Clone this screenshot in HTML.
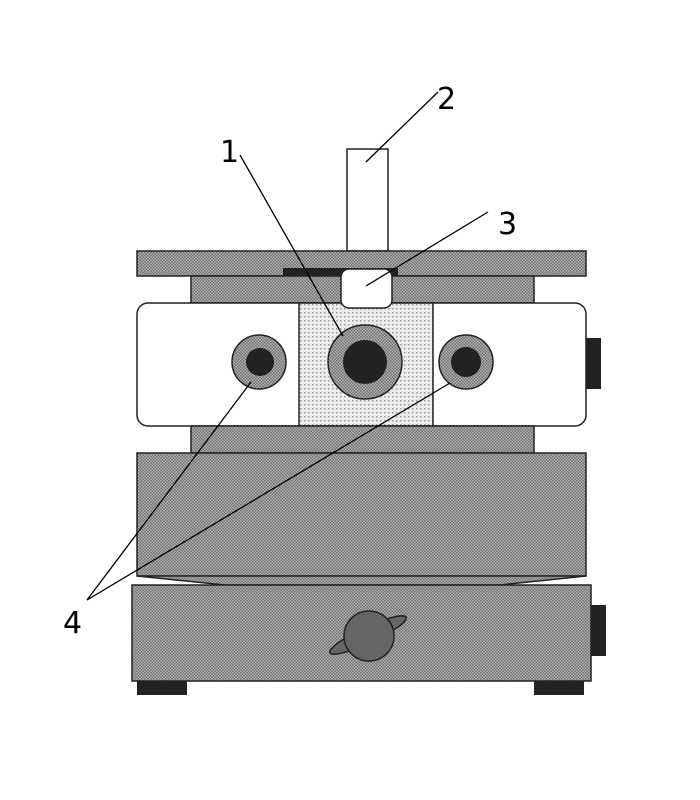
<!DOCTYPE html>
<html><head><meta charset="utf-8"><style>html,body{margin:0;padding:0;background:#fff}svg{display:block}</style></head>
<body>
<svg width="700" height="800" viewBox="0 0 700 800" xmlns="http://www.w3.org/2000/svg">
<defs>
<pattern id="hatch" width="3" height="3" patternUnits="userSpaceOnUse"><rect width="3" height="3" fill="#b4b4b4"/><rect width="1.5" height="1.5" fill="#6e6e6e"/><rect x="1.5" y="1.5" width="1.5" height="1.5" fill="#6e6e6e"/></pattern>
<pattern id="dots" width="4" height="4" patternUnits="userSpaceOnUse"><rect width="4" height="4" fill="#ececec"/><rect width="1.5" height="1.5" fill="#9a9a9a"/></pattern>
</defs>
<g stroke="#222" stroke-width="1.5">
<rect x="347" y="149" width="41" height="102" fill="#fff"/>
<rect x="137" y="251" width="449" height="25" fill="url(#hatch)"/>
<rect x="191" y="276" width="343" height="27" fill="url(#hatch)"/>
<rect x="283" y="268" width="115" height="8" fill="#222" stroke="none"/>
<rect x="137" y="303" width="449" height="123" rx="11" fill="#fff"/>
<rect x="299" y="303" width="134" height="123" fill="url(#dots)"/>
<rect x="341" y="269" width="51" height="39" rx="8" fill="#fff"/>
<circle cx="365" cy="362" r="37" fill="url(#hatch)"/>
<circle cx="365" cy="362" r="22" fill="#222" stroke="none"/>
<circle cx="259" cy="362" r="27" fill="url(#hatch)"/>
<circle cx="260" cy="362" r="14" fill="#222" stroke="none"/>
<circle cx="466" cy="362" r="27" fill="url(#hatch)"/>
<circle cx="466" cy="362" r="15" fill="#222" stroke="none"/>
<rect x="586" y="338" width="15" height="51" fill="#222" stroke="none"/>
<rect x="191" y="426" width="343" height="27" fill="url(#hatch)"/>
<rect x="137" y="453" width="449" height="123" fill="url(#hatch)"/>
<path d="M137 576 L586 576 L500 585 L225 585 Z" fill="url(#hatch)"/>
<rect x="132" y="585" width="459" height="96" fill="url(#hatch)"/>
<rect x="591" y="605" width="15" height="51" fill="#222" stroke="none"/>
<rect x="137" y="681" width="50" height="14" fill="#222" stroke="none"/>
<rect x="534" y="681" width="50" height="14" fill="#222" stroke="none"/>
<ellipse cx="368" cy="635" rx="42" ry="8" transform="rotate(-25 368 635)" fill="#666"/>
<circle cx="369" cy="636" r="25" fill="#666"/>
</g>
<g stroke="#000" stroke-width="1.3" fill="none">
<line x1="240" y1="155" x2="343" y2="336"/>
<line x1="438" y1="92" x2="366" y2="162"/>
<line x1="488" y1="212" x2="366" y2="286"/>
<line x1="87" y1="600" x2="251" y2="382"/>
<line x1="87" y1="600" x2="450" y2="383"/>
</g>
<g font-family="'DejaVu Sans','Liberation Sans',sans-serif" font-size="30" fill="#000">
<text x="220" y="162">1</text>
<text x="437" y="109">2</text>
<text x="498" y="234">3</text>
<text x="63" y="633">4</text>
</g>
</svg>
</body></html>
